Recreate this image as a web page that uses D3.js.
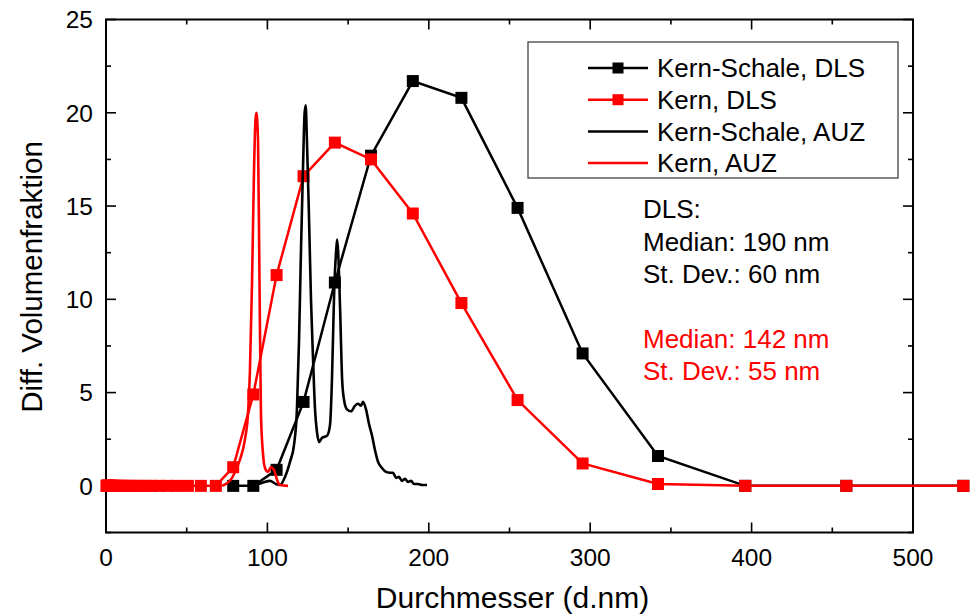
<!DOCTYPE html>
<html>
<head>
<meta charset="utf-8">
<script src="https://cdn.jsdelivr.net/npm/d3@7"></script>
<style>
  body { margin: 0; background: #fff; }
  svg { display: block; font-family: 'Liberation Sans', Arial, sans-serif; }
</style>
</head>
<body>
<svg id="chart" width="979" height="615"></svg>
<script>
// DLS size classes (nm)
const dlsSize = [0.4, 0.4632, 0.5365, 0.6213, 0.7195, 0.8332, 0.9649, 1.117, 1.294, 1.499,
  1.736, 2.01, 2.328, 2.696, 3.122, 3.615, 4.187, 4.849, 5.615, 6.503,
  7.531, 8.721, 10.1, 11.7, 13.54, 15.69, 18.17, 21.04, 24.36, 28.21,
  32.67, 37.84, 43.82, 50.75, 58.77, 68.06, 78.82, 91.28, 105.7, 122.4,
  141.8, 164.2, 190.1, 220.2, 255.0, 295.3, 342.0, 396.1, 458.7, 531.2];

// Kern-Schale, DLS (null = not plotted)
const kernSchaleDls = [null, null, null, null, null, null, null, null, null, null,
  null, null, null, null, null, null, null, null, null, null,
  null, null, null, null, null, null, null, null, null, null,
  null, null, null, null, null, null, 0, 0, 0.86, 4.5,
  10.9, 17.7, 21.7, 20.8, 14.9, 7.1, 1.6, 0, 0, 0];

// Kern, DLS
const kernDls = [0, 0, 0, 0, 0, 0, 0, 0, 0, 0,
  0, 0, 0, 0, 0, 0, 0, 0, 0, 0,
  0, 0, 0, 0, 0, 0, 0, 0, 0, 0,
  0, 0, 0, 0, 0, 0, 1.0, 4.9, 11.3, 16.6,
  18.4, 17.5, 14.6, 9.8, 4.6, 1.2, 0.1, 0, 0, 0];

// Kern-Schale, AUZ
const schaleAuzSize = [92.3, 96.7, 101.6, 105.3, 107.8, 110.9, 114.0, 116.5, 118.3, 119.6,
  120.8, 122.1, 123.0, 123.7, 124.5, 125.8, 127.0, 128.3, 129.5, 130.7,
  132.0, 133.8, 136.9, 138.8, 140.0, 141.4, 142.6, 143.2, 143.8, 145.1,
  146.3, 147.5, 149.3, 151.8, 154.3, 156.1, 158.0, 159.2, 161.1, 163.0,
  164.8, 166.7, 168.5, 171.0, 173.5, 176.0, 177.8, 179.7, 181.5, 183.4,
  185.3, 187.1, 189.0, 190.8, 193.3, 195.8, 198.9];
const schaleAuz = [0.05, 0.16, 0.27, 0.1, 0.05, 0.48, 1.29, 2.2, 4.1, 7.8,
  12.6, 17.2, 19.9, 20.4, 18.5, 14.3, 10.0, 6.75, 4.1, 2.9,
  2.36, 2.57, 2.68, 3.27, 5.7, 10.5, 12.6, 13.2, 12.6, 9.3,
  5.7, 4.6, 4.1, 4.0, 4.3, 4.4, 4.3, 4.5, 4.1, 3.3,
  2.7, 1.9, 1.3, 0.96, 0.75, 0.7, 0.7, 0.43, 0.48, 0.27,
  0.38, 0.21, 0.27, 0.1, 0.1, 0.05, 0.05];

// Kern, AUZ
const kernAuzSize = [71.9, 78.1, 83.0, 86.1, 88.0, 89.2, 90.5, 91.7, 92.6, 93.2,
  94.2, 95.1, 96.0, 97.3, 98.5, 100.4, 102.2, 104.1, 106.0, 107.8, 112.8];
const kernAuz = [0, 0.43, 1.4, 2.5, 3.9, 6.2, 11.0, 16.9, 19.6, 20.0,
  18.5, 11.0, 3.9, 1.7, 0.96, 0.75, 1.0, 0.86, 0.32, 0.05, 0];

const xTicks = [0, 100, 200, 300, 400, 500];
const yTicks = [0, 5, 10, 15, 20, 25];

const legendItems = ['Kern-Schale, DLS', 'Kern, DLS', 'Kern-Schale, AUZ', 'Kern, AUZ'];
const statsDls = ['DLS:', 'Median: 190 nm', 'St. Dev.: 60 nm'];
const statsKern = ['Median: 142 nm', 'St. Dev.: 55 nm'];

const margin = { top: 19.5, left: 106, right: 66, bottom: 82.5 };
const W = 979;
const H = 615;
const width = W - margin.left - margin.right;
const height = H - margin.top - margin.bottom;

const svg = d3.select('#chart');
const g = svg.append('g')
  .attr('transform', `translate(${margin.left}, ${margin.top})`);

const x = d3.scaleLinear().domain([0, 500]).range([0, width]);
const y = d3.scaleLinear().domain([-2.5, 25]).range([height, 0]);

const minorX = d3.range(0, 501, 50);
const minorY = d3.range(-2.5, 25.01, 2.5);

// inner ticks on all four sides
const axes = g.append('g').attr('class', 'axis');
const tickStyle = sel => sel.attr('stroke', '#000').attr('stroke-width', 1.6);

axes.append('g').selectAll('line').data(minorX).join('line')
  .attr('x1', d => x(d)).attr('x2', d => x(d))
  .attr('y1', height).attr('y2', d => height - (d % 100 === 0 ? 10 : 5))
  .call(tickStyle);
axes.append('g').selectAll('line').data(minorX).join('line')
  .attr('x1', d => x(d)).attr('x2', d => x(d))
  .attr('y1', 0).attr('y2', d => (d % 100 === 0 ? 10 : 5))
  .call(tickStyle);
axes.append('g').selectAll('line').data(minorY).join('line')
  .attr('y1', d => y(d)).attr('y2', d => y(d))
  .attr('x1', 0).attr('x2', d => (d % 5 === 0 ? 10 : 5))
  .call(tickStyle);
axes.append('g').selectAll('line').data(minorY).join('line')
  .attr('y1', d => y(d)).attr('y2', d => y(d))
  .attr('x1', width).attr('x2', d => width - (d % 5 === 0 ? 10 : 5))
  .call(tickStyle);

g.append('rect')
  .attr('width', width).attr('height', height)
  .attr('fill', 'none').attr('stroke', '#000').attr('stroke-width', 2);

axes.append('g').selectAll('text').data(xTicks).join('text')
  .attr('x', d => x(d)).attr('y', height + 33)
  .attr('text-anchor', 'middle')
  .attr('font-size', 24.5)
  .text(d => d);

axes.append('g').selectAll('text').data(yTicks).join('text')
  .attr('x', -13).attr('y', d => y(d))
  .attr('dy', '0.36em')
  .attr('text-anchor', 'end')
  .attr('font-size', 24.5)
  .text(d => d);

svg.append('text')
  .attr('x', margin.left + width / 2 + 3).attr('y', 608)
  .attr('text-anchor', 'middle')
  .attr('font-size', 30)
  .text('Durchmesser (d.nm)');

svg.append('text')
  .attr('transform', `translate(42, ${margin.top + y(11.2)}) rotate(-90)`)
  .attr('text-anchor', 'middle')
  .attr('font-size', 29.5)
  .text('Diff. Volumenfraktion');

// series
const dlsLine = d3.line()
  .defined(d => d[1] !== null)
  .x(d => x(d[0]))
  .y(d => y(d[1]));
const auzLine = d3.line()
  .curve(d3.curveMonotoneX)
  .x(d => x(d[0]))
  .y(d => y(d[1]));

function drawDls(values, color) {
  const pts = dlsSize.map((s, i) => [s, values[i]]);
  const grp = g.append('g');
  grp.append('path')
    .datum(pts)
    .attr('d', dlsLine)
    .attr('fill', 'none')
    .attr('stroke', color)
    .attr('stroke-width', 2.5);
  grp.selectAll('rect').data(pts.filter(d => d[1] !== null)).join('rect')
    .attr('x', d => x(d[0]) - 6)
    .attr('y', d => y(d[1]) - 6)
    .attr('width', 12).attr('height', 12)
    .attr('fill', color);
}

function drawAuz(sizes, values, color) {
  g.append('path')
    .datum(sizes.map((s, i) => [s, values[i]]))
    .attr('d', auzLine)
    .attr('fill', 'none')
    .attr('stroke', color)
    .attr('stroke-width', 2.6)
    .attr('stroke-linejoin', 'round');
}

drawDls(kernSchaleDls, '#000');
drawDls(kernDls, '#ff0000');
drawAuz(schaleAuzSize, schaleAuz, '#000');
drawAuz(kernAuzSize, kernAuz, '#ff0000');

// legend
const legend = svg.append('g').attr('class', 'legend');
legend.append('rect')
  .attr('x', 528).attr('y', 42)
  .attr('width', 370).attr('height', 136)
  .attr('fill', '#fff')
  .attr('stroke', '#333').attr('stroke-width', 1.2);

const legendColors = ['#000', '#ff0000', '#000', '#ff0000'];
const row = legend.selectAll('g.row').data(legendItems).join('g')
  .attr('class', 'row')
  .attr('transform', (d, i) => `translate(0, ${68 + i * 31.7})`);
row.append('line')
  .attr('x1', 588).attr('x2', 648)
  .attr('stroke', (d, i) => legendColors[i])
  .attr('stroke-width', 2.5);
row.filter((d, i) => i < 2).append('rect')
  .attr('x', 612.5).attr('y', -5.5)
  .attr('width', 11).attr('height', 11)
  .attr('fill', (d, i) => legendColors[i]);
row.append('text')
  .attr('x', 657).attr('dy', '0.36em')
  .attr('font-size', 26)
  .text(d => d);

// statistics notes
svg.append('g').selectAll('text').data(statsDls).join('text')
  .attr('x', 643).attr('y', (d, i) => 218 + i * 32.5)
  .attr('font-size', 26)
  .attr('fill', '#000')
  .text(d => d);
svg.append('g').selectAll('text').data(statsKern).join('text')
  .attr('x', 643).attr('y', (d, i) => 348 + i * 32)
  .attr('font-size', 26)
  .attr('fill', '#ff0000')
  .text(d => d);
</script>
</body>
</html>
